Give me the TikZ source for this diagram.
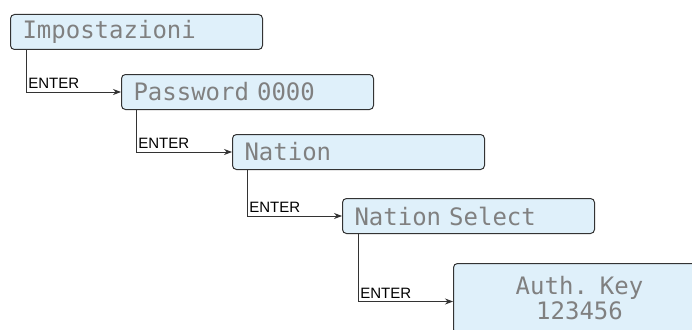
\documentclass[tikz,border=0pt]{standalone}
\usepackage{fontspec}
\setmainfont{Liberation Sans}
\newfontfamily\lcdfont{DejaVu Sans Mono}
\usepackage{xcolor}
\usepackage{tikz}
\usetikzlibrary{arrows.meta, positioning, calc}
\definecolor{lcdfill}{HTML}{DFF0FA}
\definecolor{lcdtext}{HTML}{808080}

\begin{document}
\begin{tikzpicture}[
  x=1pt, y=-1pt,
  screen/.style={rectangle, draw=black!80, rounded corners=4pt,
    fill=lcdfill, line width=1pt, anchor=north west,
    minimum width=252pt, minimum height=35pt,
    inner xsep=12pt, text width=228pt, align=left,
    font=\lcdfont\fontsize{24}{25}\selectfont, text=lcdtext},
  arrow/.style={-{Stealth[length=8pt, width=6pt]}, line width=0.8pt, draw=black!80},
  keylabel/.style={anchor=south west, inner sep=2pt, yshift=1pt,
    font=\fontsize{15}{15}\selectfont}
]
\useasboundingbox (0,0) rectangle (692,329);

\node (imp)    [screen] at (10,14)  {Impostazioni};
\node (pwd)    [screen] at (121,74) {Password 0000};
\node (nation) [screen] at (232,134) {Nation};
\node (select) [screen] at (342,198) {Nation Select};
\node (auth)   [screen, minimum height=70pt, align=center] at (453,263)
  {Auth. Key\\123456};

\draw[arrow] ([xshift=16pt]imp.south west) |- (pwd.west)
  node[keylabel, pos=0.5] {ENTER};
\draw[arrow] ([xshift=15pt]pwd.south west) |- (nation.west)
  node[keylabel, pos=0.5] {ENTER};
\draw[arrow] ([xshift=15pt]nation.south west) |- (select.west)
  node[keylabel, pos=0.5] {ENTER};
\draw[arrow] ([xshift=16pt]select.south west) |- ([yshift=-3pt]auth.west)
  node[keylabel, pos=0.5] {ENTER};

\end{tikzpicture}
\end{document}
